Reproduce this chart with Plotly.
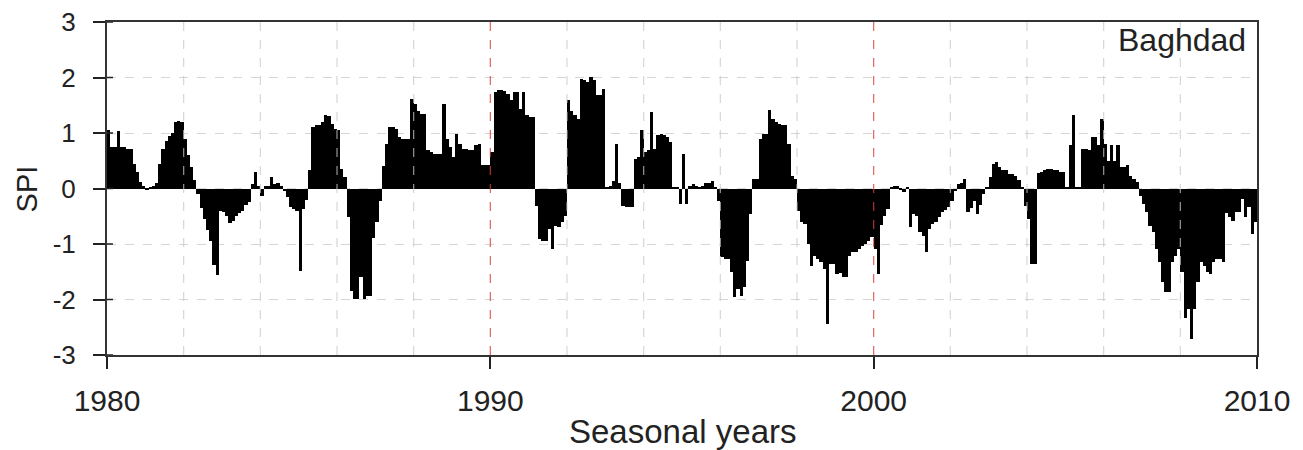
import plotly.graph_objects as go

# Monthly SPI values, Baghdad, Jan 1980 - Dec 2009
spi_1980s = [
    1.05, 0.75, 0.75, 1.03, 0.75, 0.74, 0.72, 0.72, 0.45, 0.30, 0.12, 0.05,
    -0.03, 0.03, 0.05, 0.10, 0.45, 0.72, 0.85, 0.95, 1.00, 1.20, 1.22, 1.20,
    0.90, 0.60, 0.38, 0.15, -0.10, -0.35, -0.55, -0.75, -0.95, -1.38, -1.55, -0.40,
    -0.43, -0.50, -0.62, -0.58, -0.50, -0.45, -0.40, -0.30, -0.25, 0.08, 0.30, 0.05,
    -0.13, 0.05, 0.05, 0.20, 0.08, 0.10, 0.05, -0.05, -0.15, -0.33, -0.37, -0.40,
    -1.48, -0.37, -0.20, 0.33, 1.10, 1.14, 1.14, 1.20, 1.32, 1.30, 1.17, 1.08,
    1.05, 0.36, 0.20, -0.52, -1.84, -1.99, -1.99, -1.60, -1.99, -1.93, -1.93, -0.90,
    -0.61, -0.22, 0.40, 0.80, 1.10, 1.10, 1.07, 0.92, 0.90, 0.90, 0.90, 1.62,
    1.53, 1.40, 1.35, 1.35, 0.69, 0.66, 0.63, 0.63, 0.63, 1.53, 0.90, 0.75,
    0.57, 0.99, 0.81, 0.72, 0.72, 0.69, 0.69, 0.78, 0.81, 0.42, 0.42, 0.42,
]
spi_1990s = [
    0.66, 1.74, 1.77, 1.77, 1.75, 1.71, 1.60, 1.74, 1.74, 1.44, 1.74, 1.32,
    1.29, 1.29, -0.31, -0.91, -0.94, -0.94, -0.73, -1.09, -0.67, -0.70, -0.60, -0.49,
    1.59, 1.40, 1.32, 1.25, 1.98, 1.95, 1.92, 2.01, 1.95, 1.68, 1.68, 1.80,
    0.02, 0.05, 0.14, 0.81, 0.10, -0.31, -0.34, -0.34, -0.34, 0.54, 0.57, 1.05,
    0.66, 0.69, 1.38, 0.72, 0.96, 0.99, 0.96, 0.93, 0.84, 0.02, 0.02, -0.28,
    0.63, -0.28, 0.05, 0.08, 0.05, 0.02, 0.05, 0.10, 0.10, 0.14, 0.02, -0.22,
    -1.24, -1.27, -1.27, -1.50, -1.96, -1.81, -1.93, -1.78, -1.30, -0.46, 0.17, 0.17,
    0.90, 0.99, 0.99, 1.41, 1.25, 1.20, 1.17, 1.14, 1.14, 0.81, 0.23, 0.17,
    -0.40, -0.61, -0.64, -1.00, -1.39, -1.21, -1.27, -1.33, -1.45, -2.45, -1.36, -1.36,
    -1.54, -1.52, -1.60, -1.60, -1.21, -1.15, -1.15, -1.09, -1.03, -1.00, -0.94, -0.88,
]
spi_2000s = [
    -1.09, -1.54, -0.65, -0.49, -0.37, 0.02, 0.04, 0.05, -0.02, -0.07, 0.01, -0.70,
    -0.46, -0.50, -0.79, -0.85, -1.15, -0.73, -0.64, -0.60, -0.52, -0.43, -0.38, -0.34,
    -0.22, -0.05, 0.08, 0.10, 0.17, -0.43, -0.35, -0.22, -0.46, -0.30, -0.10, 0.02,
    0.20, 0.45, 0.48, 0.39, 0.33, 0.33, 0.27, 0.27, 0.23, 0.15, 0.02, -0.31,
    -0.55, -1.36, -1.36, 0.28, 0.30, 0.33, 0.36, 0.36, 0.33, 0.33, 0.30, 0.30,
    0.02, 0.78, 1.32, 0.02, 0.02, 0.72, 0.72, 0.69, 0.93, 0.93, 0.78, 1.26,
    0.81, 0.50, 0.78, 0.50, 0.78, 0.39, 0.39, 0.42, 0.23, 0.17, 0.11, -0.13,
    -0.28, -0.43, -0.67, -0.79, -1.09, -1.33, -1.69, -1.87, -1.87, -1.33, -1.21, -1.09,
    -1.51, -2.33, -2.17, -2.72, -2.17, -1.69, -1.33, -1.40, -1.50, -1.54, -1.33, -1.27,
    -1.27, -1.33, -0.45, -0.52, -0.58, -0.43, -0.43, -0.19, -0.52, -0.34, -0.82, -0.60,
]
start_year = 1980
spi = spi_1980s + spi_1990s + spi_2000s
months = [start_year + (i + 0.5) / 12 for i in range(len(spi))]

x_tick_years = [1980, 1990, 2000, 2010]
y_ticks = [-3, -2, -1, 0, 1, 2, 3]
grid_years = [1982, 1984, 1986, 1988, 1992, 1994, 1996, 1998, 2002, 2004, 2006, 2008]
ref_years = [1990, 2000]
station = "Baghdad"
x_title = "Seasonal years"
y_title = "SPI"

FONT = "Liberation Sans, Arial, sans-serif"
TXT = "#222"

fig = go.Figure()
fig.add_trace(go.Bar(
    x=months, y=spi, width=[1 / 12] * len(spi),
    marker=dict(color="black", line=dict(width=0)),
    showlegend=False,
))

shapes = []
for yr in grid_years:
    shapes.append(dict(type="line", xref="x", yref="paper", x0=yr, x1=yr, y0=0, y1=1,
                       line=dict(color="rgba(200,200,200,0.75)", width=1.2, dash="dash"),
                       layer="above"))
for yr in ref_years:
    shapes.append(dict(type="line", xref="x", yref="paper", x0=yr, x1=yr, y0=0, y1=1,
                       line=dict(color="rgba(215,60,60,0.8)", width=1.2, dash="dash"),
                       layer="above"))
# short inward tick stubs on the y axis (ticks cross the axis in the original)
for v in y_ticks:
    shapes.append(dict(type="line", xref="x", yref="y", xsizemode="pixel", xanchor=1980,
                       x0=0, x1=6, y0=v, y1=v, line=dict(color=TXT, width=1.5),
                       layer="above"))

fig.update_layout(
    width=1303, height=450,
    margin=dict(l=99, r=54, t=14, b=103),
    paper_bgcolor="white", plot_bgcolor="white",
    bargap=0,
    shapes=shapes,
    font=dict(family=FONT, color=TXT),
    xaxis=dict(
        range=[1980, 2010], tickvals=x_tick_years, ticktext=[str(v) for v in x_tick_years],
        automargin=False,
        showgrid=False, zeroline=False,
        showline=True, linecolor="#333", linewidth=2, mirror=True,
        ticks="outside", ticklen=12, tickwidth=1.5, tickcolor=TXT,
        ticklabelstandoff=6, ticklabeloverflow="allow",
        tickfont=dict(size=30, family=FONT, color=TXT),
    ),
    yaxis=dict(
        range=[-3, 3], tickvals=y_ticks, ticktext=[str(v) for v in y_ticks],
        automargin=False,
        showgrid=True, gridcolor="#d6d6d6", griddash="dash", gridwidth=1.2,
        zeroline=False,
        showline=True, linecolor="#333", linewidth=2, mirror=True,
        ticks="outside", ticklen=12, tickwidth=1.5, tickcolor=TXT,
        ticklabelstandoff=12, ticklabeloverflow="allow",
        tickfont=dict(size=26, family=FONT, color=TXT),
    ),
    annotations=[
        dict(text=station, xref="paper", yref="paper", x=0.992, y=0.946,
             xanchor="right", yanchor="middle", showarrow=False,
             font=dict(size=32, family=FONT, color=TXT)),
        dict(text=x_title, xref="paper", yref="paper", x=0.5, y=-0.231,
             xanchor="center", yanchor="middle", showarrow=False,
             font=dict(size=33, family=FONT, color=TXT)),
        dict(text=y_title, xref="paper", yref="paper", x=-0.0696, y=0.5,
             xanchor="center", yanchor="middle", showarrow=False, textangle=-90,
             font=dict(size=29, family=FONT, color=TXT)),
    ],
)

fig.write_html("out.html")
